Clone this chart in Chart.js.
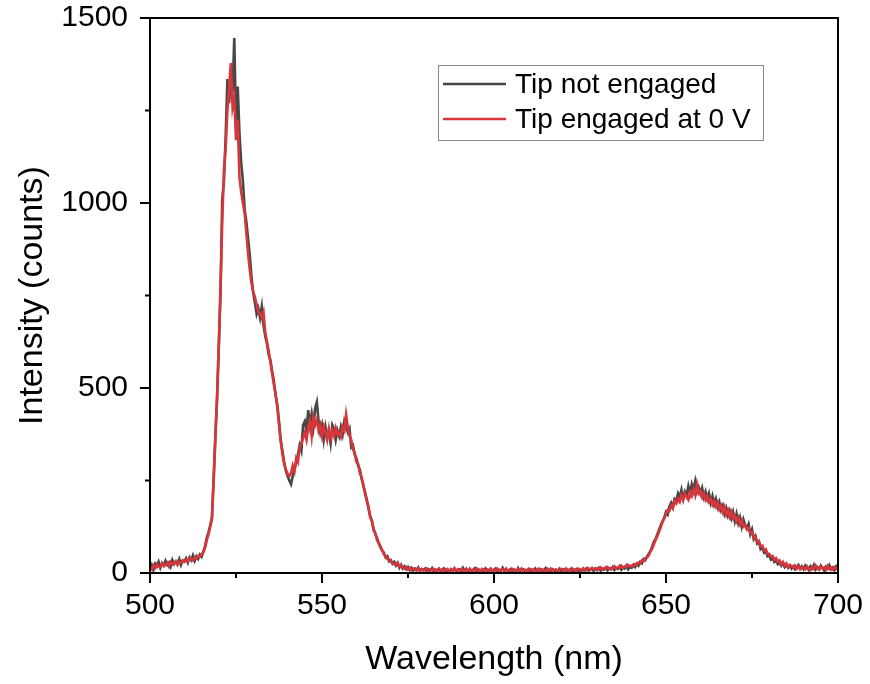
<!DOCTYPE html>
<html>
<head>
<meta charset="utf-8">
<script src="https://cdn.jsdelivr.net/npm/chart.js@4"></script>
<style>
  body { margin: 0; background: #fff; }
  #wrap { width: 870px; height: 684px; position: relative; }
</style>
</head>
<body>
<div id="wrap"><canvas id="spectrum"></canvas></div>
<script>
// wavelength grid of the spectrometer (nm), 0.5 nm per pixel
const wavelengths = Array.from({ length: 401 }, (_, i) => 500 + i * 0.5);

// one row = 10 nm
const tipNotEngaged = [
    12, 22, 8, 25, 18, 30, 14, 27, 20, 33, 22, 28, 17, 35, 24, 30, 26, 38, 22, 34,
    32, 40, 28, 42, 35, 48, 33, 45, 38, 50, 44, 58, 72, 95, 110, 128, 150, 255, 370, 470,
    610, 760, 1010, 1060, 1180, 1335, 1270, 1340, 1300, 1446, 1210, 1315, 1190, 1110, 1060, 985, 950, 905, 860, 800,
    757, 730, 700, 715, 690, 720, 670, 640, 620, 590, 575, 545, 520, 480, 455, 410, 360, 330, 300, 275,
    262, 250, 240, 262, 280, 300, 320, 345, 330, 400, 410, 385, 440, 400, 430, 395, 445, 462, 410, 380,
    400, 360, 395, 370, 380, 350, 400, 390, 360, 385, 370, 395, 375, 410, 395, 380, 390, 340, 345, 320,
    310, 290, 280, 255, 240, 215, 200, 175, 155, 140, 120, 105, 95, 80, 72, 60, 55, 42, 45, 32,
    35, 25, 30, 20, 26, 14, 22, 12, 18, 10, 16, 8, 14, 6, 12, 9, 15, 5, 11, 8,
    12, 4, 10, 7, 13, 3, 9, 6, 11, 4, 8, 12, 5, 9, 3, 10, 6, 12, 4, 8,
    10, 3, 14, 6, 9, 2, 11, 5, 8, 13, 4, 10, 6, 9, 3, 12, 7, 5, 10, 4,
    8, 12, 3, 9, 6, 14, 4, 10, 7, 3, 11, 6, 9, 2, 13, 5, 8, 10, 4, 7,
    11, 3, 9, 6, 12, 4, 8, 10, 3, 7, 13, 5, 9, 4, 10, 6, 8, 3, 11, 5,
    7, 10, 4, 9, 6, 12, 3, 8, 11, 5, 9, 4, 10, 7, 13, 6, 9, 11, 5, 12,
    8, 14, 6, 11, 9, 15, 7, 12, 10, 16, 8, 13, 11, 18, 9, 14, 12, 20, 10, 16,
    14, 22, 16, 25, 20, 30, 26, 38, 35, 45, 52, 60, 72, 85, 92, 105, 118, 130, 140, 150,
    165, 158, 180, 190, 178, 200, 195, 215, 205, 225, 200, 220, 210, 235, 215, 240, 225, 248, 220, 232,
    215, 230, 205, 220, 200, 215, 190, 208, 185, 200, 178, 192, 170, 182, 160, 175, 155, 168, 148, 165,
    140, 160, 135, 150, 125, 145, 130, 120, 132, 105, 118, 92, 100, 80, 85, 65, 70, 55, 58, 45,
    48, 36, 40, 30, 34, 24, 28, 20, 26, 16, 22, 14, 20, 12, 18, 10, 16, 22, 12, 18,
    10, 20, 14, 8, 18, 12, 22, 9, 16, 11, 20, 13, 7, 17, 12, 21, 10, 15, 8, 18, 12
];

const tipEngaged0V = [
    15, 10, 20, 14, 24, 18, 16, 26, 20, 22, 28, 18, 30, 24, 26, 32, 22, 30, 28, 34,
    30, 36, 32, 40, 38, 34, 42, 40, 46, 44, 50, 56, 68, 88, 105, 125, 145, 250, 365, 480,
    620, 770, 950, 1090, 1150, 1250, 1310, 1378, 1260, 1287, 1170, 1224, 1070, 1030, 1000, 973, 920, 865, 820, 784,
    760, 746, 725, 705, 703, 690, 705, 650, 625, 600, 570, 540, 510, 485, 450, 400, 355, 320, 295, 280,
    268, 262, 270, 290, 275, 310, 300, 340, 350, 365, 380, 360, 395, 410, 370, 420, 400, 415, 385, 400,
    370, 395, 380, 360, 390, 365, 385, 370, 392, 375, 380, 368, 395, 385, 428, 395, 370, 360, 335, 325,
    300, 295, 270, 260, 235, 220, 195, 180, 150, 142, 115, 108, 88, 82, 68, 62, 50, 46, 38, 36,
    30, 28, 24, 22, 28, 16, 20, 14, 12, 16, 10, 14, 8, 12, 10, 6, 13, 8, 10, 6,
    9, 12, 5, 10, 8, 11, 4, 9, 12, 6, 10, 3, 8, 11, 5, 9, 7, 13, 6, 10,
    6, 11, 8, 4, 12, 7, 9, 3, 10, 6, 12, 8, 5, 11, 9, 4, 10, 7, 12, 6,
    10, 6, 11, 4, 8, 10, 7, 12, 5, 9, 6, 11, 8, 4, 10, 7, 12, 6, 9, 5,
    8, 11, 6, 10, 4, 9, 12, 5, 10, 7, 6, 11, 4, 12, 7, 9, 10, 6, 8, 11,
    10, 6, 12, 7, 9, 5, 11, 8, 6, 12, 10, 7, 13, 9, 8, 12, 10, 14, 11, 9,
    12, 10, 15, 9, 13, 12, 16, 11, 14, 13, 18, 12, 16, 15, 20, 14, 18, 17, 22, 19,
    20, 18, 24, 22, 28, 26, 34, 32, 40, 42, 48, 58, 66, 78, 90, 100, 112, 125, 138, 148,
    158, 170, 168, 182, 175, 195, 188, 200, 192, 210, 198, 215, 205, 198, 218, 208, 225, 210, 240, 215,
    222, 205, 215, 198, 208, 192, 200, 185, 195, 180, 190, 172, 182, 165, 178, 158, 170, 152, 165, 148,
    155, 140, 150, 132, 142, 125, 130, 118, 122, 108, 110, 95, 98, 84, 86, 72, 74, 62, 64, 52,
    52, 44, 46, 36, 40, 30, 34, 24, 30, 20, 26, 16, 22, 18, 14, 20, 12, 18, 10, 16,
    14, 10, 18, 12, 8, 16, 11, 20, 13, 9, 17, 12, 15, 8, 19, 11, 14, 9, 16, 12, 18
];

const seriesLabels = ['Tip not engaged', 'Tip engaged at 0 V'];
const xMajorTicks = [500, 550, 600, 650, 700];
const xMinorTicks = [525, 575, 625, 675];
const yMajorTicks = [0, 500, 1000, 1500];
const yMinorTicks = [250, 750, 1250];

const FONT = '"Liberation Sans", Arial, Helvetica, sans-serif';

function toPoints(values) {
    return values.map((v, i) => ({ x: wavelengths[i], y: v }));
}

// frame + outward ticks (major and minor) like the origin plot
const framePlugin = {
    id: 'frame',
    afterDatasetsDraw(chart) {
        const { ctx, chartArea: a, scales: { x, y } } = chart;
        ctx.save();
        ctx.strokeStyle = '#000';
        ctx.lineWidth = 2;
        ctx.strokeRect(a.left, a.top, a.right - a.left, a.bottom - a.top);
        ctx.beginPath();
        xMajorTicks.forEach(v => {
            const px = x.getPixelForValue(v);
            ctx.moveTo(px, a.bottom);
            ctx.lineTo(px, a.bottom + 10);
        });
        xMinorTicks.forEach(v => {
            const px = x.getPixelForValue(v);
            ctx.moveTo(px, a.bottom);
            ctx.lineTo(px, a.bottom + 5);
        });
        yMajorTicks.forEach(v => {
            const py = y.getPixelForValue(v);
            ctx.moveTo(a.left, py);
            ctx.lineTo(a.left - 10, py);
        });
        yMinorTicks.forEach(v => {
            const py = y.getPixelForValue(v);
            ctx.moveTo(a.left, py);
            ctx.lineTo(a.left - 5, py);
        });
        ctx.stroke();
        ctx.restore();
    }
};

// boxed legend inside the plot
const legendBoxPlugin = {
    id: 'legendBox',
    afterDraw(chart) {
        const { ctx, chartArea: a } = chart;
        const bx = a.left + 288, by = a.top + 47, bw = 325, bh = 75;
        ctx.save();
        ctx.fillStyle = '#fff';
        ctx.fillRect(bx, by, bw, bh);
        ctx.strokeStyle = '#8a8a8a';
        ctx.lineWidth = 1;
        ctx.strokeRect(bx + 0.5, by + 0.5, bw, bh);
        ctx.font = '28px ' + FONT;
        ctx.textBaseline = 'middle';
        chart.data.datasets.forEach((ds, i) => {
            const ly = by + 19 + i * 35;
            ctx.strokeStyle = ds.borderColor;
            ctx.lineWidth = 2.6;
            ctx.beginPath();
            ctx.moveTo(bx + 5, ly);
            ctx.lineTo(bx + 68, ly);
            ctx.stroke();
            ctx.fillStyle = '#000';
            ctx.fillText(ds.label, bx + 77, ly + 1);
        });
        ctx.restore();
    }
};

new Chart(document.getElementById('spectrum'), {
    type: 'line',
    data: {
        datasets: [
            {
                label: seriesLabels[0],
                data: toPoints(tipNotEngaged),
                borderColor: '#474747',
                borderWidth: 2.6,
                pointRadius: 0,
                order: 1
            },
            {
                label: seriesLabels[1],
                data: toPoints(tipEngaged0V),
                borderColor: '#d9363c',
                borderWidth: 2.6,
                pointRadius: 0,
                order: 0
            }
        ]
    },
    options: {
        responsive: true,
        maintainAspectRatio: false,
        animation: false,
        layout: { padding: 0 },
        plugins: {
            legend: { display: false },
            tooltip: { enabled: false }
        },
        scales: {
            x: {
                type: 'linear',
                min: 500,
                max: 700,
                grid: { display: false, drawTicks: false },
                border: { display: false },
                ticks: {
                    stepSize: 50,
                    padding: 15,
                    color: '#000',
                    font: { family: FONT, size: 30 },
                    callback: v => String(v)
                },
                title: {
                    display: true,
                    text: 'Wavelength (nm)',
                    color: '#000',
                    font: { family: FONT, size: 34 },
                    padding: { top: 0, bottom: 4 }
                },
                afterFit(scale) {
                    scale.height = 111;
                    scale.paddingLeft = 0;
                    scale.paddingRight = 32;
                }
            },
            y: {
                min: 0,
                max: 1500,
                grid: { display: false, drawTicks: false },
                border: { display: false },
                ticks: {
                    stepSize: 500,
                    padding: 22,
                    color: '#000',
                    font: { family: FONT, size: 30 },
                    callback: v => String(v)
                },
                title: {
                    display: true,
                    text: 'Intensity (counts)',
                    color: '#000',
                    font: { family: FONT, size: 34 },
                    padding: { top: 12, bottom: 0 }
                },
                afterFit(scale) {
                    scale.width = 150;
                    scale.paddingTop = 18;
                    scale.paddingBottom = 0;
                }
            }
        }
    },
    plugins: [framePlugin, legendBoxPlugin]
});
</script>
</body>
</html>
